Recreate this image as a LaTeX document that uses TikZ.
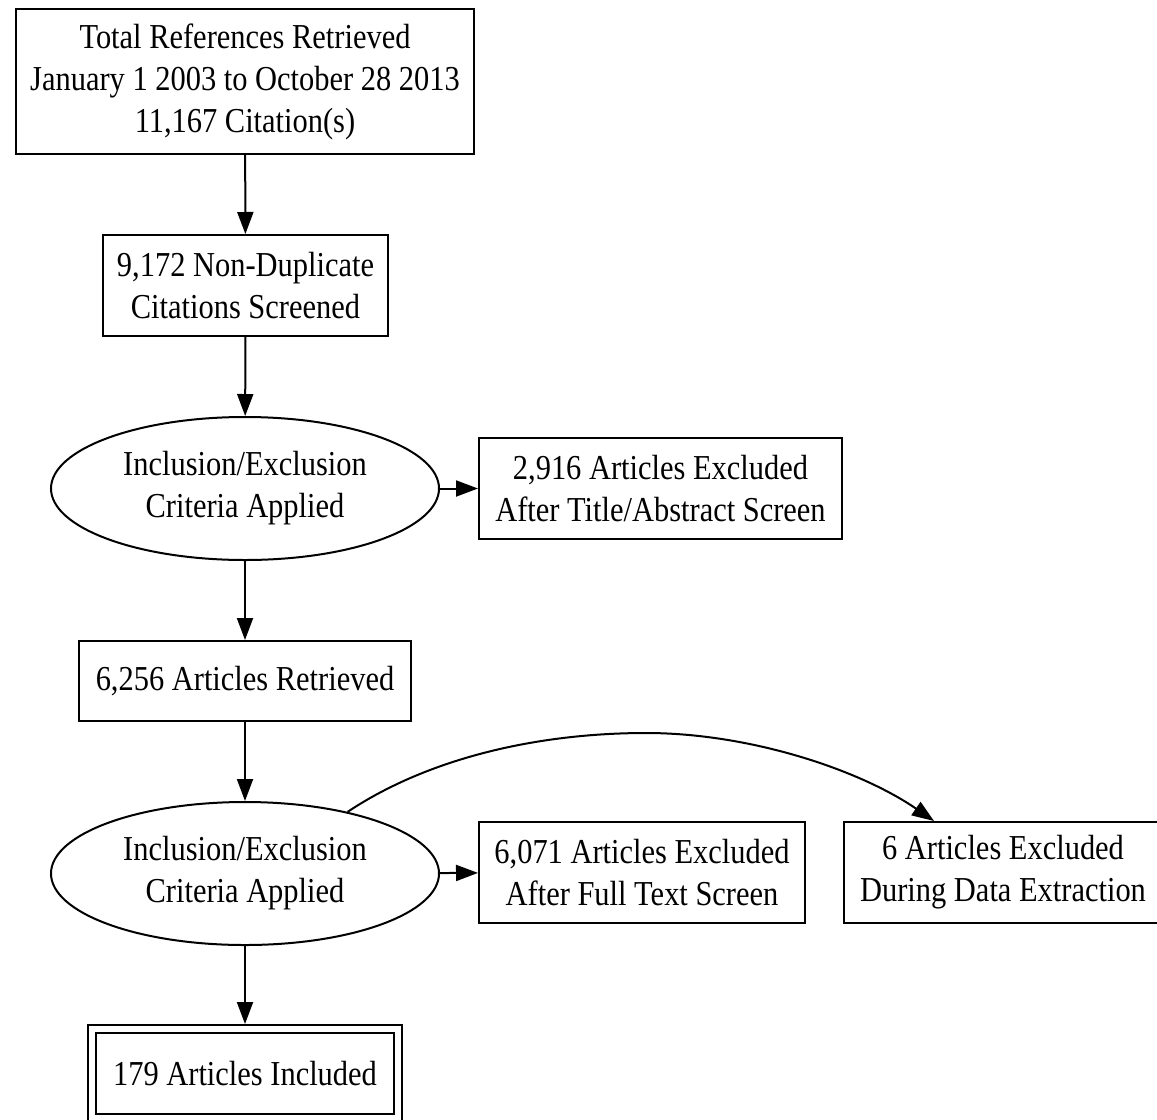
\documentclass[tikz,border=0pt]{standalone}
\usepackage{fontspec}
\setmainfont[FakeStretch=0.87]{Liberation Serif}
\usetikzlibrary{arrows.meta,shapes.geometric}
\begin{document}
\begin{tikzpicture}[x=0.4pt,y=-0.4pt,
  every node/.style={font=\fontsize{14}{16.8}\selectfont, align=center, inner sep=0pt, line width=0.8pt},
  box/.style={draw, rectangle},
  oval/.style={draw, ellipse, minimum width=155.2pt, minimum height=57.2pt},
  arr/.style={line width=0.8pt, -{Triangle[length=8.8pt,width=6.4pt]}}]
\useasboundingbox (0,0) rectangle (1157,1119);

\node[box, minimum width=183.2pt, minimum height=57.6pt] (total) at (245,81.5)
  {Total References Retrieved\\January 1 2003 to October 28 2013\\11,167 Citation(s)};
\node[box, minimum width=114pt, minimum height=40.4pt] (nondup) at (245.5,285.5)
  {9,172 Non-Duplicate\\Citations Screened};
\node[oval] (crit1) at (245,488.5) {Inclusion/Exclusion\\Criteria Applied};
\node[box, minimum width=145.2pt, minimum height=40.4pt] (excl1) at (660.5,488.5)
  {2,916 Articles Excluded\\After Title/Abstract Screen};
\node[box, minimum width=132.8pt, minimum height=32pt] (retr) at (245,681)
  {6,256 Articles Retrieved};
\node[oval] (crit2) at (245,873.5) {Inclusion/Exclusion\\Criteria Applied};
\node[box, minimum width=130.4pt, minimum height=40.4pt] (excl2) at (642,872.5)
  {6,071 Articles Excluded\\After Full Text Screen};
\node[box, minimum width=127.2pt, minimum height=40.4pt] (excl3) at (1003,872.5)
  {6 Articles Excluded\\During Data Extraction};
\node[box, double, double distance=2.4pt, outer sep=2pt, minimum width=122pt, minimum height=35.6pt] (incl) at (245,1073.5)
  {179 Articles Included};

\draw[arr] (total) -- (nondup);
\draw[arr] (nondup) -- (crit1);
\draw[arr] (crit1) -- (excl1);
\draw[arr] (crit1) -- (retr);
\draw[arr] (retr) -- (crit2);
\draw[arr] (crit2) -- (excl2);
\draw[arr] (crit2) -- (incl);
\draw[arr] (crit2.31.5) .. controls (430,757) and (540,733) .. (646,733)
  .. controls (750,733) and (860,770) .. ([xshift=-27.6pt]excl3.north);
\end{tikzpicture}
\end{document}
